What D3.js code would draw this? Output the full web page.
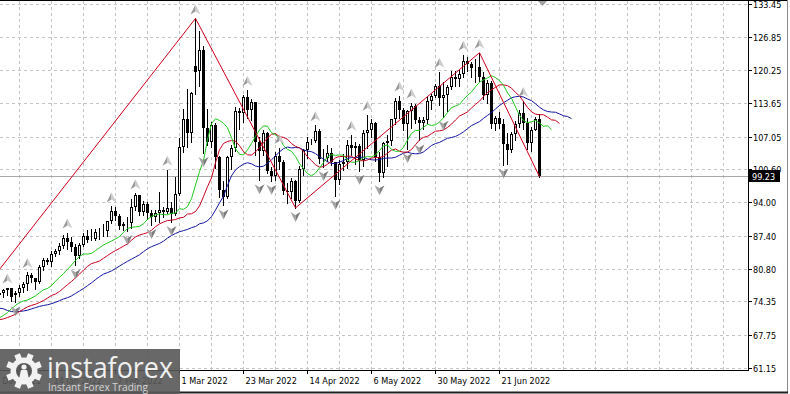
<!DOCTYPE html>
<html>
<head>
<meta charset="utf-8">
<script src="https://cdn.jsdelivr.net/npm/d3@7"></script>
<style>
html, body { margin: 0; padding: 0; background: #fff; overflow: hidden; }
svg { display: block; font-family: "DejaVu Sans Condensed", "DejaVu Sans", sans-serif; }
</style>
</head>
<body>
<svg id="chart" width="790" height="394"></svg>
<script>
// daily bars: date, open, high, low, close
var candles = [
  ["2021-12-01",66.2,69.4,64.4,65.6],["2021-12-02",65.6,67.4,62.4,66.5],["2021-12-03",66.5,69.2,65.0,66.3],
  ["2021-12-06",66.3,69.8,66.1,69.5],["2021-12-07",69.5,72.4,69.2,72.1],["2021-12-08",72.1,73.3,71.1,72.4],
  ["2021-12-09",72.4,72.9,70.4,70.9],["2021-12-10",70.9,72.1,70.2,71.7],["2021-12-13",71.7,72.6,70.6,71.3],
  ["2021-12-14",71.3,71.8,69.9,70.7],["2021-12-15",70.7,71.7,69.3,70.9],["2021-12-16",70.9,72.9,70.5,72.4],
  ["2021-12-17",72.4,72.6,70.0,70.9],["2021-12-20",70.9,70.9,66.1,68.2],["2021-12-21",68.2,71.5,68.1,71.1],
  ["2021-12-22",71.1,73.0,70.7,72.8],["2021-12-23",72.8,73.9,72.3,73.8],["2021-12-24",73.8,74.0,73.1,73.6],
  ["2021-12-27",73.6,75.9,72.7,75.6],["2021-12-28",75.6,76.9,75.3,76.0],["2021-12-29",76.0,76.8,75.3,76.6],
  ["2021-12-30",76.6,77.1,75.7,77.0],["2021-12-31",77.0,77.0,74.4,75.2],
  ["2022-01-03",75.7,76.5,74.2,76.1],["2022-01-04",76.1,77.6,75.5,77.0],["2022-01-05",77.0,78.2,76.3,77.9],
  ["2022-01-06",77.9,80.2,76.7,79.5],["2022-01-07",79.5,80.0,78.2,78.9],["2022-01-10",78.9,79.0,76.8,78.2],
  ["2022-01-11",78.2,81.5,78.0,81.2],["2022-01-12",81.2,83.0,80.6,82.6],["2022-01-13",82.6,83.0,81.7,82.1],
  ["2022-01-14",82.1,84.3,81.3,83.8],["2022-01-17",83.8,84.8,83.4,84.4],["2022-01-18",84.4,86.0,83.8,85.4],
  ["2022-01-19",85.4,87.6,84.9,87.0],["2022-01-20",87.0,88.0,84.7,86.2],["2022-01-21",86.2,87.2,84.4,85.1],
  ["2022-01-24",85.1,85.7,81.5,83.3],["2022-01-25",83.3,85.9,83.0,85.6],["2022-01-26",85.6,87.9,85.3,87.4],
  ["2022-01-27",87.4,88.5,86.1,86.6],["2022-01-28",86.6,88.8,86.5,86.8],["2022-01-31",86.8,88.8,86.5,88.2],
  ["2022-02-01",88.2,88.9,86.8,88.2],["2022-02-02",88.2,89.7,87.3,88.3],["2022-02-03",88.3,90.4,87.4,90.3],
  ["2022-02-04",90.3,93.2,89.9,92.3],["2022-02-07",92.3,93.0,90.5,91.3],["2022-02-08",91.3,91.6,88.7,89.4],
  ["2022-02-09",89.4,90.2,88.6,89.7],["2022-02-10",89.7,91.0,88.3,89.9],["2022-02-11",89.9,94.7,88.9,93.1],
  ["2022-02-14",93.1,95.8,92.5,95.5],["2022-02-15",95.5,95.5,91.5,92.1],["2022-02-16",92.1,94.2,91.4,93.7],
  ["2022-02-17",93.7,94.0,90.8,91.8],["2022-02-18",91.8,92.5,89.5,91.1],["2022-02-21",91.1,92.5,90.4,91.9],
  ["2022-02-22",91.9,96.0,90.2,92.4],["2022-02-23",92.4,93.0,91.0,92.1],["2022-02-24",92.1,100.5,91.9,92.8],
  ["2022-02-25",92.8,94.1,90.1,91.6],["2022-02-28",91.6,99.1,91.5,95.7],
  ["2022-03-01",95.7,106.8,95.4,105.0],["2022-03-02",105.0,112.5,104.0,110.6],["2022-03-03",110.6,116.6,105.0,107.7],
  ["2022-03-04",107.7,116.0,106.0,115.7],["2022-03-07",121.0,130.5,115.5,119.8],["2022-03-08",120.0,128.0,117.0,124.3],
  ["2022-03-09",124.3,125.0,103.8,108.7],["2022-03-10",108.7,112.5,105.3,106.0],["2022-03-11",106.0,110.0,105.0,109.3],
  ["2022-03-14",109.3,109.7,100.8,103.0],["2022-03-15",103.0,103.2,95.0,96.4],["2022-03-16",96.4,98.2,93.4,95.0],
  ["2022-03-17",95.0,103.2,94.9,103.0],["2022-03-18",103.0,105.3,100.6,104.7],["2022-03-21",104.7,112.9,104.2,112.1],
  ["2022-03-22",112.1,112.8,108.5,111.8],["2022-03-23",111.8,115.4,109.9,114.9],["2022-03-24",114.9,116.3,110.8,112.3],
  ["2022-03-25",112.3,114.6,110.3,113.9],["2022-03-28",113.9,114.0,103.5,106.0],["2022-03-29",106.0,107.0,98.4,104.2],
  ["2022-03-30",104.2,108.3,103.5,107.8],["2022-03-31",107.8,108.0,99.9,100.3],
  ["2022-04-01",100.3,101.0,98.3,99.3],["2022-04-04",99.3,104.0,98.5,103.3],["2022-04-05",103.3,104.8,100.6,102.0],
  ["2022-04-06",102.0,102.4,95.7,96.2],["2022-04-07",96.2,97.8,93.9,96.0],["2022-04-08",96.0,98.8,94.9,98.3],
  ["2022-04-11",98.3,98.5,92.9,94.3],["2022-04-12",94.3,101.2,94.0,100.6],["2022-04-13",100.6,104.5,99.4,104.3],
  ["2022-04-14",104.3,107.0,102.9,106.0],["2022-04-15",106.0,106.6,105.6,106.2],["2022-04-18",106.2,109.3,106.0,108.2],
  ["2022-04-19",108.2,108.5,101.8,102.6],["2022-04-20",102.6,104.5,101.0,102.8],["2022-04-21",102.8,105.3,102.3,103.8],
  ["2022-04-22",103.8,104.7,101.5,102.1],["2022-04-25",102.1,102.1,95.3,98.5],["2022-04-26",98.5,102.4,97.7,101.7],
  ["2022-04-27",101.7,103.7,100.4,102.0],["2022-04-28",102.0,106.3,100.8,105.4],["2022-04-29",105.4,107.4,103.4,104.7],
  ["2022-05-02",104.7,105.9,101.6,105.2],["2022-05-03",105.2,105.5,100.3,102.4],["2022-05-04",102.4,108.3,101.2,107.8],
  ["2022-05-05",107.8,111.4,104.8,108.3],["2022-05-06",108.3,110.5,107.0,109.8],["2022-05-09",109.8,110.0,102.3,103.1],
  ["2022-05-10",103.1,103.9,98.2,99.8],["2022-05-11",99.8,106.0,99.0,105.7],["2022-05-12",105.7,107.3,101.3,106.1],
  ["2022-05-13",106.1,110.6,105.3,110.5],["2022-05-16",110.5,114.8,109.5,114.2],["2022-05-17",114.2,115.2,110.8,112.4],
  ["2022-05-18",112.4,112.7,108.3,109.6],["2022-05-19",109.6,112.4,104.6,112.2],["2022-05-20",112.2,113.8,108.8,113.2],
  ["2022-05-23",113.2,113.5,109.8,110.3],["2022-05-24",110.3,111.0,106.3,109.8],["2022-05-25",109.8,111.0,108.5,110.3],
  ["2022-05-26",110.3,114.9,109.7,114.1],["2022-05-27",114.1,115.6,112.5,115.1],["2022-05-30",115.1,117.4,114.9,117.1],
  ["2022-05-31",117.1,119.9,113.3,114.7],
  ["2022-06-01",114.7,117.8,111.0,115.3],["2022-06-02",115.3,117.3,112.2,116.9],["2022-06-03",116.9,120.0,116.5,118.9],
  ["2022-06-06",118.9,120.0,117.0,118.5],["2022-06-07",118.5,120.3,117.0,119.4],["2022-06-08",119.4,123.3,118.9,122.1],
  ["2022-06-09",122.1,122.8,120.0,121.5],["2022-06-10",121.5,121.8,118.8,120.7],["2022-06-13",120.7,122.5,117.9,120.9],
  ["2022-06-14",120.9,123.7,118.1,118.9],["2022-06-15",118.9,119.8,114.6,115.3],["2022-06-16",115.3,118.2,113.7,117.6],
  ["2022-06-17",117.6,118.1,108.7,109.6],["2022-06-20",109.6,111.2,108.3,110.7],["2022-06-21",110.7,112.0,108.7,109.5],
  ["2022-06-22",109.5,110.5,101.5,105.5],["2022-06-23",105.5,107.8,101.7,104.3],["2022-06-24",104.3,108.0,104.0,107.6],
  ["2022-06-27",107.6,110.1,106.3,109.6],["2022-06-28",109.6,112.3,109.0,111.8],["2022-06-29",111.8,114.1,108.6,109.8],
  ["2022-06-30",109.8,110.7,104.6,105.8],
  ["2022-07-01",105.8,109.0,104.1,108.4],["2022-07-04",108.4,110.9,108.3,110.5],["2022-07-05",110.5,111.5,99.1,99.23]
];

var priceTicks = [133.45, 126.85, 120.25, 113.65, 107.05, 100.60, 94.00, 87.40, 80.80, 74.35, 67.75, 61.15];
var lastPrice = 99.23;

// zigzag turning points (low, high, low, ...)
var zigzagDates = ["2021-12-02", "2022-03-07", "2022-04-11", "2022-06-14", "2022-07-05"];

// alligator lines: smoothed MA of median price, shifted forward; seed = level before the first bar
var alligator = [
  { name: "jaw",   period: 13, shift: 8, seed: 77.5, color: "#1414a0" },
  { name: "teeth", period: 8,  shift: 5, seed: 74.0, color: "#c8001e" },
  { name: "lips",  period: 5,  shift: 3, seed: 70.0, color: "#1ec81e" }
];

var W = 790, H = 394;
var plotRight = 748, plotBottom = 370;

var svg = d3.select("#chart");
var parse = d3.timeParse("%Y-%m-%d");
var fmt = d3.timeFormat("%-d %b %Y");

var bars = candles.map(function(r, i) {
  return { i: i, key: r[0], date: parse(r[0]), o: r[1], h: r[2], l: r[3], c: r[4] };
});

// 4px per bar, 1 Mar 2022 sits at x=179
var x = d3.scaleLinear().domain([0, bars.length - 1]).range([-77, -77 + 4 * (bars.length - 1)]);
var y = d3.scaleLinear().domain([61.15, 133.45]).range([367.9, 3.6]);

svg.append("defs").append("clipPath").attr("id", "plot")
  .append("rect").attr("x", 0).attr("y", 1).attr("width", plotRight).attr("height", plotBottom - 1);

var plot = svg.append("g").attr("clip-path", "url(#plot)");

// grid
var gridIdx = d3.range(0, 210).filter(function(i) { return i % 8 === 0; });
plot.append("g").selectAll("line").data(gridIdx).enter().append("line")
  .attr("x1", function(d) { return x(d) + 0.5; }).attr("x2", function(d) { return x(d) + 0.5; })
  .attr("y1", 1).attr("y2", plotBottom)
  .attr("stroke", "#c4c4c4").attr("stroke-dasharray", "3,3").attr("shape-rendering", "crispEdges");
plot.append("g").selectAll("line").data(priceTicks).enter().append("line")
  .attr("x1", 0).attr("x2", plotRight)
  .attr("y1", function(d) { return Math.round(y(d)) + 0.5; }).attr("y2", function(d) { return Math.round(y(d)) + 0.5; })
  .attr("stroke", "#c4c4c4").attr("stroke-dasharray", "3,3").attr("shape-rendering", "crispEdges");

// last price line
plot.append("line")
  .attr("x1", 0).attr("x2", plotRight)
  .attr("y1", Math.round(y(lastPrice)) + 0.5).attr("y2", Math.round(y(lastPrice)) + 0.5)
  .attr("stroke", "#a8a8a8").attr("shape-rendering", "crispEdges");

// candles
var cg = plot.append("g").attr("shape-rendering", "crispEdges");
cg.selectAll("line.wick").data(bars).enter().append("line").attr("class", "wick")
  .attr("x1", function(d) { return x(d.i) + 0.5; }).attr("x2", function(d) { return x(d.i) + 0.5; })
  .attr("y1", function(d) { return Math.round(y(d.h)); }).attr("y2", function(d) { return Math.round(y(d.l)) + 1; })
  .attr("stroke", "#000");
cg.selectAll("rect.bear").data(bars.filter(function(d) { return d.c < d.o; })).enter().append("rect")
  .attr("class", "bear")
  .attr("x", function(d) { return x(d.i) - 1; }).attr("width", 3)
  .attr("y", function(d) { return Math.round(y(d.o)); })
  .attr("height", function(d) { return Math.max(1, Math.round(y(d.c)) - Math.round(y(d.o))); })
  .attr("fill", "#000");
cg.selectAll("rect.bull").data(bars.filter(function(d) { return d.c >= d.o; })).enter().append("rect")
  .attr("class", "bull")
  .attr("x", function(d) { return x(d.i) - 0.5; }).attr("width", 2)
  .attr("y", function(d) { return Math.round(y(d.c)) + 0.5; })
  .attr("height", function(d) { return Math.max(0, Math.round(y(d.o)) - Math.round(y(d.c)) - 1); })
  .attr("fill", "#fff").attr("stroke", "#000");

// alligator
alligator.forEach(function(a) {
  var s = a.seed, pts = [];
  bars.forEach(function(d) {
    s = (s * (a.period - 1) + (d.h + d.l) / 2) / a.period;
    pts.push({ i: d.i + a.shift, v: s });
  });
  plot.append("path").datum(pts)
    .attr("d", d3.line().x(function(p) { return x(p.i) + 0.5; }).y(function(p) { return y(p.v); }))
    .attr("fill", "none").attr("stroke", a.color).attr("stroke-width", 1);
});

// zigzag
var zz = zigzagDates.map(function(k, j) {
  var b = bars.find(function(d) { return d.key === k; });
  return { i: b.i, v: j % 2 === 0 ? b.l : b.h };
});
plot.append("path").datum(zz)
  .attr("d", d3.line().x(function(p) { return x(p.i) + 0.5; }).y(function(p) { return y(p.v); }))
  .attr("fill", "none").attr("stroke", "#d0001a").attr("stroke-width", 1);

// fractals
var ups = [], downs = [];
for (var i = 2; i < bars.length - 2; i++) {
  var b = bars[i];
  if (b.h >= bars[i-1].h && b.h >= bars[i-2].h && b.h > bars[i+1].h && b.h > bars[i+2].h) ups.push(b);
  if (b.l <= bars[i-1].l && b.l <= bars[i-2].l && b.l < bars[i+1].l && b.l < bars[i+2].l) downs.push(b);
}
var fg = plot.append("g");
ups.forEach(function(d) {
  var cx = x(d.i) + 0.5, base = y(d.h) - 4, tip = base - 10, notch = base - 3;
  fg.append("path").attr("d", "M" + cx + "," + tip + "L" + (cx - 5) + "," + base + "L" + cx + "," + notch + "Z").attr("fill", "#9a9a9a");
  fg.append("path").attr("d", "M" + cx + "," + tip + "L" + (cx + 5) + "," + base + "L" + cx + "," + notch + "Z").attr("fill", "#cdcdcd");
});
downs.forEach(function(d) {
  var cx = x(d.i) + 0.5, base = y(d.l) + 4, tip = base + 10, notch = base + 3;
  fg.append("path").attr("d", "M" + cx + "," + tip + "L" + (cx - 5) + "," + base + "L" + cx + "," + notch + "Z").attr("fill", "#a4a4a4");
  fg.append("path").attr("d", "M" + cx + "," + tip + "L" + (cx + 5) + "," + base + "L" + cx + "," + notch + "Z").attr("fill", "#7c7c7c");
});

// chart shift marker
svg.append("path").attr("d", "M538,1L547,1L542.5,6Z").attr("fill", "#a0a0a0");

// frame
svg.append("line").attr("x1", 0).attr("x2", 788).attr("y1", 0.5).attr("y2", 0.5).attr("stroke", "#000");
svg.append("line").attr("x1", plotRight + 0.5).attr("x2", plotRight + 0.5).attr("y1", 0).attr("y2", plotBottom + 1)
  .attr("stroke", "#000");
svg.append("line").attr("x1", 0).attr("x2", plotRight + 1).attr("y1", plotBottom + 0.5).attr("y2", plotBottom + 0.5)
  .attr("stroke", "#000");
svg.append("line").attr("x1", 787.5).attr("x2", 787.5).attr("y1", 0).attr("y2", 393).attr("stroke", "#8a8a8a");
svg.append("line").attr("x1", 0).attr("x2", 788).attr("y1", 392.5).attr("y2", 392.5).attr("stroke", "#202020").attr("stroke-width", 2);

// price axis
var pa = svg.append("g");
priceTicks.forEach(function(t) {
  var yy = Math.round(y(t)) + 0.5;
  pa.append("line").attr("x1", plotRight).attr("x2", plotRight + 4).attr("y1", yy).attr("y2", yy).attr("stroke", "#000");
  pa.append("text").attr("x", plotRight + 5).attr("y", yy + 3.5).attr("font-size", 9).attr("fill", "#000")
    .text(d3.format(".2f")(t));
});
var ly = Math.round(y(lastPrice));
pa.append("rect").attr("x", plotRight + 1).attr("y", ly - 6).attr("width", 31).attr("height", 12).attr("fill", "#000");
pa.append("text").attr("x", plotRight + 4).attr("y", ly + 3.5).attr("font-size", 9).attr("fill", "#fff")
  .text(d3.format(".2f")(lastPrice));

// date axis
var dateIdx = bars.filter(function(d) { return d.i % 16 === 0 && x(d.i) > -40; });
var da = svg.append("g");
dateIdx.forEach(function(d) {
  var xx = x(d.i) + 0.5;
  da.append("line").attr("x1", xx).attr("x2", xx).attr("y1", plotBottom).attr("y2", plotBottom + 4).attr("stroke", "#000");
  da.append("text").attr("x", xx + 2).attr("y", 384).attr("font-size", 9).attr("fill", "#000").text(fmt(d.date));
});

// logo
var logo = svg.append("g");
logo.append("rect").attr("x", 0).attr("y", 349).attr("width", 180).attr("height", 45)
  .attr("fill", "#585858").attr("opacity", 0.9);
var gcx = 24, gcy = 371;
d3.range(8).forEach(function(k) {
  logo.append("rect").attr("x", gcx - 3).attr("y", gcy - 18).attr("width", 6).attr("height", 7)
    .attr("fill", "#f2f2f2").attr("transform", "rotate(" + (k * 45 + 22.5) + "," + gcx + "," + gcy + ")");
});
logo.append("circle").attr("cx", gcx).attr("cy", gcy).attr("r", 13.5).attr("fill", "#f2f2f2");
logo.append("circle").attr("cx", gcx).attr("cy", gcy).attr("r", 8).attr("fill", "#585858");
logo.append("circle").attr("cx", gcx).attr("cy", gcy - 4).attr("r", 2.6).attr("fill", "#f2f2f2");
logo.append("path").attr("d", "M" + (gcx - 5) + "," + (gcy + 8) + "L" + (gcx - 3) + "," + (gcy - 1) + "L" + (gcx + 3) + "," + (gcy - 1) + "L" + (gcx + 5) + "," + (gcy + 8) + "Z")
  .attr("fill", "#f2f2f2");
logo.append("text").attr("x", 47).attr("y", 378).attr("font-family", "'Open Sans', sans-serif")
  .attr("font-size", 30).attr("fill", "#f0f0f0").attr("textLength", 126).attr("lengthAdjust", "spacingAndGlyphs")
  .text("instaforex");
logo.append("text").attr("x", 48).attr("y", 390.5).attr("font-family", "'Open Sans', sans-serif")
  .attr("font-size", 11).attr("fill", "#d4d4d4").attr("textLength", 100).attr("lengthAdjust", "spacingAndGlyphs")
  .text("Instant Forex Trading");
</script>
</body>
</html>
